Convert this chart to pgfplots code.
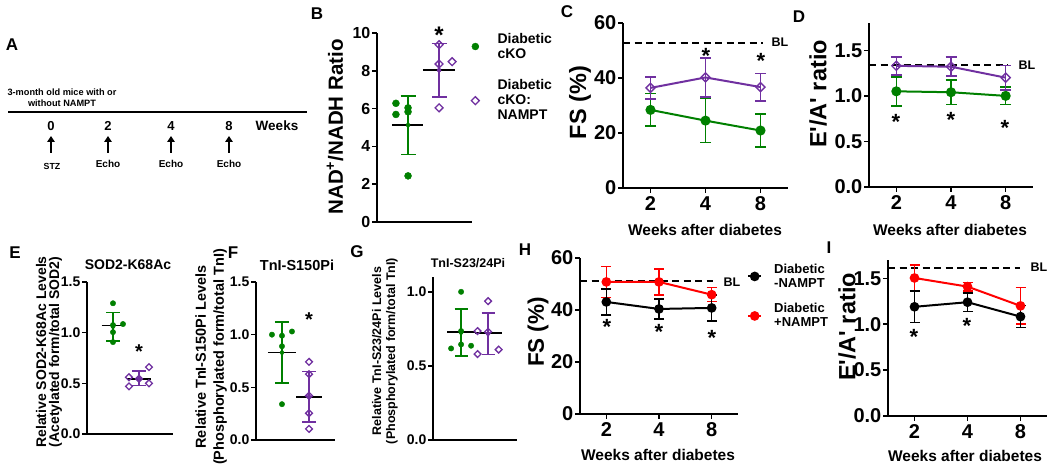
\documentclass[border=0pt]{standalone}
\usepackage{fontspec}
\setmainfont{Liberation Sans}[Ligatures=TeXOff]
\usepackage{pgfplots}
\pgfplotsset{compat=1.18}
\usetikzlibrary{arrows.meta}
\definecolor{dgreen}{RGB}{0,128,0}
\definecolor{dpurple}{RGB}{112,48,160}
\definecolor{dred}{RGB}{255,0,0}
\newcommand{\F}[2]{\fontsize{#1}{#2}\selectfont\bfseries}

\pgfplotsset{
  base/.style={
    scale only axis, clip=false, anchor=south west,
    axis x line*=bottom, axis y line*=left,
    axis line style={line width=1.6pt, black},
    tick align=outside,
    major tick length=5pt,
    major tick style={line width=1.6pt, black},
    /pgf/number format/assume math mode=true,
    yticklabel style={inner sep=1.5pt},
  },
  dotplot/.style={base, xtick=\empty, tick label style={font=\F{14}{14}}},
  lineplot/.style={base, xtick={1,2,3}, xticklabels={2,4,8}, xmin=0.5, xmax=3.5, tick label style={font=\F{20}{20}}},
  onedec/.style={yticklabel style={/pgf/number format/.cd, fixed, fixed zerofill, precision=1}},
  gdot/.style={only marks, mark=*, mark size=#1, color=dgreen},
  pdia/.style={only marks, mark=square, mark size=#1, color=dpurple, mark options={rotate=45, fill=white, line width=1.3pt}},
  ebar/.style={only marks, mark=none, forget plot,
    error bars/y dir=both, error bars/y explicit,
    error bars/error bar style={line width=1.6pt},
    error bars/error mark options={line width=1.6pt, mark size=#1, rotate=90}},
  lebar/.style={error bars/y dir=both, error bars/y explicit,
    error bars/error bar style={line width=1.6pt, solid},
    error bars/error mark options={line width=1.6pt, mark size=#1, solid, rotate=90}},
  mline/.style={black, line width=1.8pt, forget plot, mark=none},
  bl/.style={black, line width=2pt, dash pattern=on 7pt off 4.5pt, forget plot, mark=none},
}

\begin{document}
\begin{tikzpicture}[x=1pt,y=1pt]
\useasboundingbox (0,0) rectangle (1050,476);

% ---------------- Panel A ----------------
\node[font=\F{17}{17}] at (12,431) {A};
\node[align=center, font=\F{9.2}{11}] at (62,378.5) {3-month old mice with or\\without NAMPT};
\draw[line width=2pt] (8,364) -- (307,364);
\foreach \xx/\tt in {51/0,108/2,171/4,229/8} {
  \node[font=\F{13}{13}] at (\xx,350) {\tt};
  \draw[line width=2.4pt, -{Triangle[width=7.5pt,length=6pt]}] (\xx,323) -- (\xx,340);
}
\node[font=\F{13.5}{13.5}] at (277,350) {Weeks};
\node[font=\F{8.8}{8.8}] at (52,310) {STZ};
\foreach \xx in {108,171,229} {\node[font=\F{10}{10}] at (\xx,312) {Echo};}

% ---------------- Panel B ----------------
\node[font=\F{17}{17}] at (317,462) {B};
\begin{axis}[dotplot, at={(377pt,254pt)}, width=95pt, height=189pt,
  xmin=0, xmax=3.06, ymin=0, ymax=10, ytick={0,2,4,6,8,10},
  tick label style={font=\F{16}{16}},
  legend cell align=left,
  legend style={at={(0.968,1.0)}, anchor=north west, draw=none, fill=none,
    inner sep=0pt, column sep=16pt, row sep=20pt, font=\F{14}{15},
    nodes={inner sep=0pt}, cells={align=left}},
  legend image code/.code={\draw[#1] plot coordinates {(6pt,0pt)}; \path (0pt,-3pt) (12pt,3pt);},
]
\addplot[gdot=3.5pt] coordinates {(0.61,6.28) (0.61,5.69) (1.0,6.04) (1.0,5.83) (1.0,2.44)};
\addlegendentry{Diabetic\\cKO}
\addplot[pdia=2.8pt] coordinates {(2.0,9.38) (2.0,8.36) (2.42,8.48) (2.0,6.04)};
\addlegendentry{Diabetic\\cKO:\\NAMPT}
\addplot[dgreen, ebar=7.5pt] coordinates {(1.0,5.13) +- (0,1.55)};
\addplot[dpurple, ebar=7.5pt] coordinates {(2.0,8.03) +- (0,1.41)};
\addplot[mline] coordinates {(0.48,5.13) (1.48,5.13)};
\addplot[mline] coordinates {(1.48,8.04) (2.52,8.04)};
\end{axis}
\node[rotate=90, font=\F{20.5}{20.5}] at (335,349) {NAD\textsuperscript{+}/NADH Ratio};
\node[anchor=base, font=\F{24}{24}] at (439,432.3) {*};

% ---------------- Panel C ----------------
\node[font=\F{17}{17}] at (567,464) {C};
\begin{axis}[lineplot, at={(623pt,288pt)}, width=165pt, height=165pt,
  ymin=0, ymax=60, ytick={0,20,40,60}]
\addplot[bl] coordinates {(0.5,52.9) (3.045,52.9)};
\addplot[dgreen, line width=2pt, mark=*, mark size=4pt, lebar=5.5pt]
  coordinates {(1,28.4) +- (0,5.9) (2,24.5) +- (0,8.0) (3,20.9) +- (0,5.9)};
\addplot[dpurple, line width=2pt, mark=square, mark size=3.2pt,
  mark options={rotate=45, fill=white, line width=1.4pt, solid}, lebar=5.5pt]
  coordinates {(1,36.4) +- (0,4.0) (2,40.2) +- (0,7.1) (3,36.7) +- (0,5.0)};
\end{axis}
\node[anchor=west, font=\F{12.5}{12.5}] at (768,434) {BL};
\node[rotate=90, font=\F{23.5}{23.5}] at (580,373.5) {FS (\%)};
\node[font=\F{15.5}{15.5}] at (705,246) {Weeks after diabetes};
\node[anchor=base, font=\F{22}{22}] at (706,412.5) {*};
\node[anchor=base, font=\F{22}{22}] at (761,407.5) {*};

% ---------------- Panel D ----------------
\node[font=\F{17}{17}] at (799,459) {D};
\begin{axis}[lineplot, onedec, at={(869pt,289pt)}, width=164pt, height=164pt,
  ymin=0, ymax=1.8, ytick={0,0.5,1,1.5}]
\addplot[bl] coordinates {(0.5,1.335) (3.04,1.335)};
\addplot[dgreen, line width=2pt, mark=*, mark size=4pt, lebar=5.5pt]
  coordinates {(1,1.05) +- (0,0.16) (2,1.04) +- (0,0.135) (3,1.00) +- (0,0.095)};
\addplot[dpurple, line width=2pt, mark=square, mark size=3.2pt,
  mark options={rotate=45, fill=white, line width=1.4pt, solid}, lebar=5.5pt]
  coordinates {(1,1.33) +- (0,0.10) (2,1.32) +- (0,0.105) (3,1.20) +- (0,0.135)};
\end{axis}
\node[anchor=west, font=\F{12.5}{12.5}] at (1015,411) {BL};
\node[rotate=90, font=\F{23.5}{23.5}] at (818,382) {E'/A' ratio};
\node[font=\F{15.5}{15.5}] at (950,246) {Weeks after diabetes};
\node[anchor=base, font=\F{22}{22}] at (896,346.5) {*};
\node[anchor=base, font=\F{22}{22}] at (951,348.5) {*};
\node[anchor=base, font=\F{22}{22}] at (1005,340.5) {*};

% ---------------- Panel E ----------------
\node[font=\F{17}{17}] at (15,223) {E};
\begin{axis}[dotplot, onedec, at={(87pt,42pt)}, width=86pt, height=152pt,
  xmin=0, xmax=3.31, ymin=0, ymax=1.5, ytick={0,0.5,1,1.5}]
\addplot[gdot=2.7pt] coordinates {(1.0,1.29) (1.385,1.085) (1.0,1.075) (1.0,1.005) (1.0,0.907)};
\addplot[pdia=2.4pt] coordinates {(2.385,0.66) (1.615,0.56) (1.615,0.47) (2.385,0.50) (2.0,0.545)};
\addplot[dgreen, ebar=6.7pt] coordinates {(1,1.06) +- (0,0.14)};
\addplot[dpurple, ebar=6.7pt] coordinates {(2,0.55) +- (0,0.07)};
\addplot[mline] coordinates {(0.56,1.07) (1.44,1.07)};
\addplot[mline] coordinates {(1.54,0.54) (2.46,0.54)};
\end{axis}
\node[font=\F{14}{14}] at (128,211) {SOD2-K68Ac};
\node[rotate=90, align=center, font=\F{14}{13}] at (49,124) {Relative SOD2-K68Ac Levels\\(Acetylated form/total SOD2)};
\node[anchor=base, font=\F{20}{20}] at (139,117.6) {*};

% ---------------- Panel F ----------------
\node[font=\F{17}{17}] at (233,223) {F};
\begin{axis}[dotplot, onedec, at={(256pt,36pt)}, width=79pt, height=158pt,
  xmin=0.04, xmax=2.96, ymin=0, ymax=1.5, ytick={0,0.5,1,1.5}]
\addplot[gdot=2.7pt] coordinates {(0.63,1.0) (1.0,0.99) (1.37,1.03) (1.0,0.89) (1.0,0.34)};
\addplot[pdia=2.4pt] coordinates {(2,0.742) (2,0.625) (2,0.42) (2,0.254) (2,0.105)};
\addplot[dgreen, ebar=7pt] coordinates {(1,0.83) +- (0,0.29)};
\addplot[dpurple, ebar=7pt] coordinates {(2,0.41) +- (0,0.24)};
\addplot[mline] coordinates {(0.48,0.83) (1.52,0.83)};
\addplot[mline] coordinates {(1.52,0.41) (2.48,0.41)};
\end{axis}
\node[font=\F{14.5}{14.5}] at (297,211) {TnI-S150Pi};
\node[rotate=90, align=center, font=\F{14.5}{18}] at (211,119) {Relative TnI-S150Pi Levels\\(Phosphorylated form/total TnI)};
\node[anchor=base, font=\F{20}{20}] at (309,149.6) {*};

% ---------------- Panel G ----------------
\node[font=\F{17}{17}] at (357,224) {G};
\begin{axis}[dotplot, onedec, at={(433pt,36pt)}, width=84pt, height=163pt,
  xmin=-0.04, xmax=3.07, ymin=0, ymax=1.1, ytick={0,0.5,1}]
\addplot[gdot=2.7pt] coordinates {(1,1.0) (1,0.735) (1,0.645) (0.63,0.618) (1.37,0.636)};
\addplot[pdia=2.4pt] coordinates {(2,0.937) (1.61,0.735) (2,0.73) (1.61,0.58) (2.39,0.61)};
\addplot[dgreen, ebar=6.5pt] coordinates {(1,0.725) +- (0,0.16)};
\addplot[dpurple, ebar=6.5pt] coordinates {(2,0.718) +- (0,0.14)};
\addplot[mline] coordinates {(0.48,0.73) (1.5,0.73)};
\addplot[mline] coordinates {(1.5,0.72) (2.5,0.72)};
\end{axis}
\node[font=\F{12.5}{12.5}] at (468,213) {TnI-S23/24Pi};
\node[rotate=90, align=center, font=\F{12.5}{14}] at (385,125) {Relative TnI-S23/24Pi Levels\\(Phosphorylated form/total TnI)};

% ---------------- Panel H ----------------
\node[font=\F{17}{17}] at (525,226) {H};
\begin{axis}[lineplot, at={(580pt,62pt)}, width=158pt, height=156pt,
  ymin=0, ymax=60, ytick={0,20,40,60},
  reverse legend, legend cell align=left,
  legend style={at={(1.057,0.963)}, anchor=north west, draw=none, fill=none,
    inner sep=0pt, column sep=12pt, row sep=14.6pt, font=\F{13}{14},
    nodes={inner sep=0pt}, cells={align=left}},
  legend image code/.code={\draw[mark repeat=2, mark phase=2, #1] plot coordinates {(0pt,0pt) (6.5pt,0pt) (13pt,0pt)};},
]
\addplot[bl] coordinates {(0.5,51.0) (3.03,51.0)};
\addplot[dred, line width=2pt, mark=*, mark size=3.8pt, lebar=5pt]
  coordinates {(1,50.8) +- (0,6.0) (2,50.8) +- (0,5.0) (3,45.9) +- (0,2.7)};
\addlegendentry{Diabetic\\+NAMPT}
\addplot[black, line width=2pt, mark=*, mark size=3.8pt, lebar=5pt]
  coordinates {(1,43.1) +- (0,5.0) (2,40.4) +- (0,3.9) (3,40.8) +- (0,5.0)};
\addlegendentry{Diabetic\\-NAMPT}
\end{axis}
\node[anchor=west, font=\F{12.5}{12.5}] at (720,194) {BL};
\node[rotate=90, font=\F{22.5}{22.5}] at (538,144) {FS (\%)};
\node[font=\F{15.5}{15.5}] at (658,21) {Weeks after diabetes};
\node[anchor=base, font=\F{22}{22}] at (607,141.5) {*};
\node[anchor=base, font=\F{22}{22}] at (659,136.5) {*};
\node[anchor=base, font=\F{22}{22}] at (712,130.5) {*};

% ---------------- Panel I ----------------
\node[font=\F{17}{17}] at (829,228) {I};
\begin{axis}[lineplot, onedec, at={(888pt,60pt)}, width=159pt, height=156pt,
  ymin=0, ymax=1.7, ytick={0,0.5,1,1.5}]
\addplot[bl] coordinates {(0.5,1.61) (2.99,1.61)};
\addplot[dred, line width=2pt, mark=*, mark size=3.8pt, lebar=5pt]
  coordinates {(1,1.504) +- (0,0.14) (2,1.41) +- (0,0.045) (3,1.20) +- (0,0.2)};
\addplot[black, line width=2pt, mark=*, mark size=3.8pt, lebar=5pt]
  coordinates {(1,1.19) +- (0,0.17) (2,1.24) +- (0,0.10) (3,1.083) +- (0,0.12)};
\end{axis}
\node[anchor=west, font=\F{12.5}{12.5}] at (1027,209) {BL};
\node[rotate=90, font=\F{23.5}{23.5}] at (847,149) {E'/A' ratio};
\node[font=\F{15.5}{15.5}] at (965,20) {Weeks after diabetes};
\node[anchor=base, font=\F{22}{22}] at (914,131.5) {*};
\node[anchor=base, font=\F{22}{22}] at (967,142.5) {*};

\end{tikzpicture}
\end{document}
